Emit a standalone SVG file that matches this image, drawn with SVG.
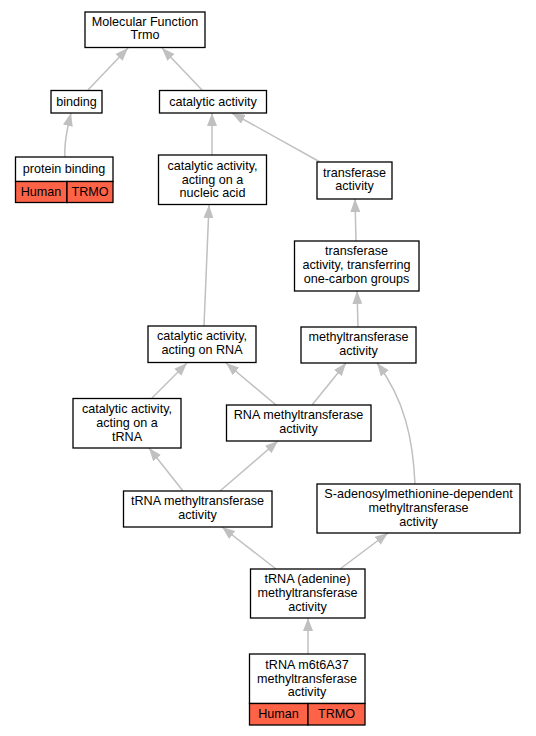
<svg xmlns="http://www.w3.org/2000/svg" width="536" height="736" viewBox="0 0 536 736">
<style>
.n{fill:#fff;stroke:#000;stroke-width:1.3}
.c{fill:#ff6347;stroke:#000;stroke-width:1.3}
text{font-family:"Liberation Sans",Arial,sans-serif;font-size:12.6px;text-anchor:middle;fill:#000}
.e{fill:none;stroke:#c0c0c0;stroke-width:1.5;marker-end:url(#a)}
</style>
<defs>
<marker id="a" markerUnits="userSpaceOnUse" viewBox="0 0 13 10" refX="13" refY="5" markerWidth="13" markerHeight="10" orient="auto">
<path d="M0,0 L13,5 L0,10 z" fill="#c0c0c0"/>
</marker>
</defs>
<rect width="536" height="736" fill="#fff"/>
<g id="edges">
<path class="e" d="M88,90 L128,48"/>
<path class="e" d="M202,90 L162,48"/>
<path class="e" d="M65,157 C64,145 66,133 71,113"/>
<path class="e" d="M212,155 L212,113"/>
<path class="e" d="M320,162 L232,113"/>
<path class="e" d="M356,241 L355,199"/>
<path class="e" d="M358,327 L357,291"/>
<path class="e" d="M204,326 L209,205"/>
<path class="e" d="M152,398 L187,363"/>
<path class="e" d="M276,405 L226,363"/>
<path class="e" d="M312,405 L346,363"/>
<path class="e" d="M415,484 C413,440 405,400 377,363"/>
<path class="e" d="M183,491 L149,448"/>
<path class="e" d="M220,491 L278,441"/>
<path class="e" d="M276,569 L222,527"/>
<path class="e" d="M340,569 L388,533"/>
<path class="e" d="M308,654 L308,618"/>
</g>
<g id="mf"><rect class="n" x="85" y="12" width="120" height="35.5"/><text x="145" y="25.8">Molecular Function</text><text x="145" y="39.2">Trmo</text></g>
<g id="binding"><rect class="n" x="51" y="90.5" width="51" height="22.5"/><text x="76.5" y="106">binding</text></g>
<g id="catalytic"><rect class="n" x="159.5" y="90.5" width="107" height="22.5"/><text x="213" y="106">catalytic activity</text></g>
<g id="protein"><rect class="n" x="15.5" y="157" width="97.5" height="24.5"/><text x="64" y="173">protein binding</text><rect class="c" x="15.5" y="181.5" width="51.5" height="21"/><rect class="c" x="67" y="181.5" width="46" height="21"/><text x="41" y="196">Human</text><text x="90" y="196">TRMO</text></g>
<g id="nucleic"><rect class="n" x="158.5" y="155" width="108" height="49.5"/><text x="212.5" y="169.8">catalytic activity,</text><text x="212.5" y="183.5">acting on a</text><text x="212.5" y="197.2">nucleic acid</text></g>
<g id="transferase"><rect class="n" x="317" y="162" width="75" height="37"/><text x="354.5" y="176.8">transferase</text><text x="354.5" y="190.2">activity</text></g>
<g id="onecarbon"><rect class="n" x="294.5" y="241" width="124.5" height="50"/><text x="356.5" y="255.3">transferase</text><text x="356.5" y="269">activity, transferring</text><text x="356.5" y="282.7">one-carbon groups</text></g>
<g id="methyl"><rect class="n" x="301" y="327" width="115" height="36"/><text x="358.5" y="341.3">methyltransferase</text><text x="358.5" y="354.7">activity</text></g>
<g id="rna"><rect class="n" x="148" y="326" width="108" height="36.5"/><text x="202" y="340.3">catalytic activity,</text><text x="202" y="353.7">acting on RNA</text></g>
<g id="trna"><rect class="n" x="73" y="398.5" width="108" height="49.5"/><text x="127" y="413.3">catalytic activity,</text><text x="127" y="427">acting on a</text><text x="127" y="440.7">tRNA</text></g>
<g id="rnamt"><rect class="n" x="226.5" y="405" width="144.5" height="36"/><text x="298.5" y="419.3">RNA methyltransferase</text><text x="298.5" y="432.7">activity</text></g>
<g id="trnamt"><rect class="n" x="123.5" y="491" width="148.5" height="36"/><text x="197.5" y="505.3">tRNA methyltransferase</text><text x="197.5" y="518.7">activity</text></g>
<g id="sam"><rect class="n" x="317" y="484" width="203" height="49"/><text x="418.5" y="498.3">S-adenosylmethionine-dependent</text><text x="418.5" y="512">methyltransferase</text><text x="418.5" y="525.7">activity</text></g>
<g id="adenine"><rect class="n" x="250.5" y="569" width="114.5" height="49"/><text x="307.5" y="583.3">tRNA (adenine)</text><text x="307.5" y="597">methyltransferase</text><text x="307.5" y="610.7">activity</text></g>
<g id="m6t6"><rect class="n" x="249.5" y="654" width="115.5" height="49.5"/><text x="307" y="668.8">tRNA m6t6A37</text><text x="307" y="682.5">methyltransferase</text><text x="307" y="696.2">activity</text><rect class="c" x="249.5" y="703.5" width="58.5" height="21.5"/><rect class="c" x="308" y="703.5" width="57" height="21.5"/><text x="278.5" y="718">Human</text><text x="336.5" y="718">TRMO</text></g>
</svg>
